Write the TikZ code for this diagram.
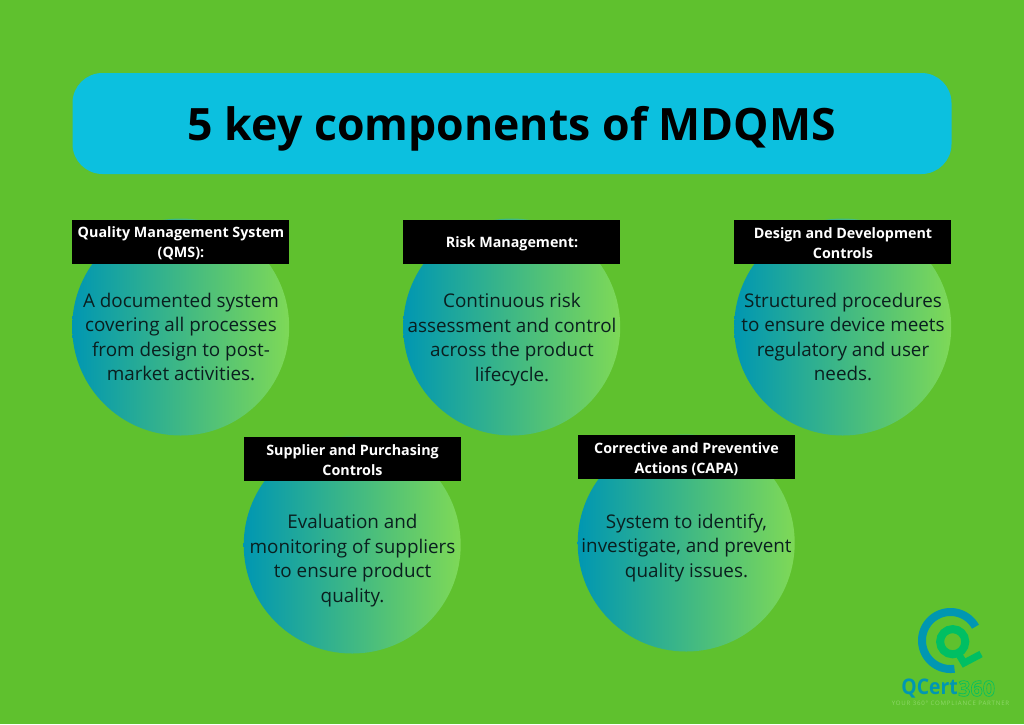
\documentclass[tikz,border=0pt]{standalone}
\usepackage{fontspec}
\setmainfont{Open Sans}
\newfontfamily\spacedfont[LetterSpace=13]{Open Sans}
\definecolor{bgc}{HTML}{5FC12E}
\definecolor{titlec}{HTML}{0CC0DF}
\definecolor{gradl}{HTML}{0097B2}
\definecolor{gradr}{HTML}{7ED957}
\definecolor{logob}{HTML}{0097B2}
\definecolor{logog}{HTML}{00BF63}
\definecolor{logot}{HTML}{8FD86A}
\definecolor{bodyt}{HTML}{0A1F1F}
\tikzset{
  disc/.style={circle,minimum size=217pt,inner sep=0pt,left color=gradl,right color=gradr,draw=none},
  headbox/.style={fill=black,minimum width=217pt,minimum height=44.5pt,inner sep=0pt},
  headtext/.style={text=white,inner sep=0pt,align=center,font=\fontsize{14.3}{20}\selectfont\bfseries},
  bodytext/.style={text=bodyt,align=center,font=\fontsize{18.85}{24.6}\selectfont,inner sep=0pt},
}
\begin{document}
\begin{tikzpicture}[x=1pt,y=-1pt]
\useasboundingbox (0,0) rectangle (1024,724);
\fill[bgc] (0,0) rectangle (1024,724);
\node[fill=titlec,rounded corners=30pt,minimum width=879pt,minimum height=101pt,inner sep=0pt] (title) at (512,123.5) {};
\node[font=\fontsize{44.6}{50}\selectfont\bfseries,inner sep=0pt] (titletext) at (512,129) {5 key components of MDQMS};

\node[disc] (c1) at (180.7,327) {};
\node[disc] (c2) at (511.7,327) {};
\node[disc] (c3) at (842.7,327) {};
\node[disc] (c4) at (352.2,545) {};
\node[disc] (c5) at (686.2,543) {};

\node[headbox] (h1) at (180.7,242) {};
\node[headbox] (h2) at (511.7,242) {};
\node[headbox] (h3) at (842.7,242) {};
\node[headbox] (h4) at (352.2,459) {};
\node[headbox] (h5) at (686.2,457) {};
\node[headtext] (t1) at (181,243.5) {Quality Management System\\(QMS):};
\node[headtext] (t2) at (512,244) {Risk Management:};
\node[headtext] (t3) at (843,243) {Design and Development\\Controls};
\node[headtext] (t4) at (352.5,460) {Supplier and Purchasing\\Controls};
\node[headtext] (t5) at (686.5,459) {Corrective and Preventive\\Actions (CAPA)};

\node[bodytext] (b1) at (181,337) {A documented system\\covering all processes\\from design to post-\\market activities.};
\node[bodytext] (b2) at (512,339.5) {Continuous risk\\assessment and control\\across the product\\lifecycle.};
\node[bodytext] (b3) at (843,337) {Structured procedures\\to ensure device meets\\regulatory and user\\needs.};
\node[bodytext] (b4) at (352.5,560.5) {Evaluation and\\monitoring of suppliers\\to ensure product\\quality.};
\node[bodytext] (b5) at (686.5,548) {System to identify,\\investigate, and prevent\\quality issues.};

% logo
\draw[logob,line width=8pt] plot[domain=-29:-278,samples=80] ({950.5+28.5*cos(\x)},{640.5+28.5*sin(\x)});
\draw[logog,line width=8pt] (952.7,641.7) circle[radius=12.6];
\draw[logog,line width=7pt,line join=miter] (958,653) -- (964,663) -- (981,654);
\node[text=logob,font=\fontsize{21.5}{23}\selectfont\bfseries,inner sep=0pt,anchor=east,xscale=.9] (lg1) at (958,688.5) {QCert};
\node[text=logog,font=\fontsize{21.5}{23}\selectfont\bfseries,inner sep=0pt,anchor=west] (lg2) at (958,688.5) {\special{pdf:code 1 Tr 0.6 w}360\special{pdf:code 0 Tr}};
\node[text=logot,font=\fontsize{6.1}{6}\selectfont\spacedfont,inner sep=0pt] (lg3) at (950.5,703) {YOUR 360° COMPLIANCE PARTNER};
\end{tikzpicture}
\end{document}
